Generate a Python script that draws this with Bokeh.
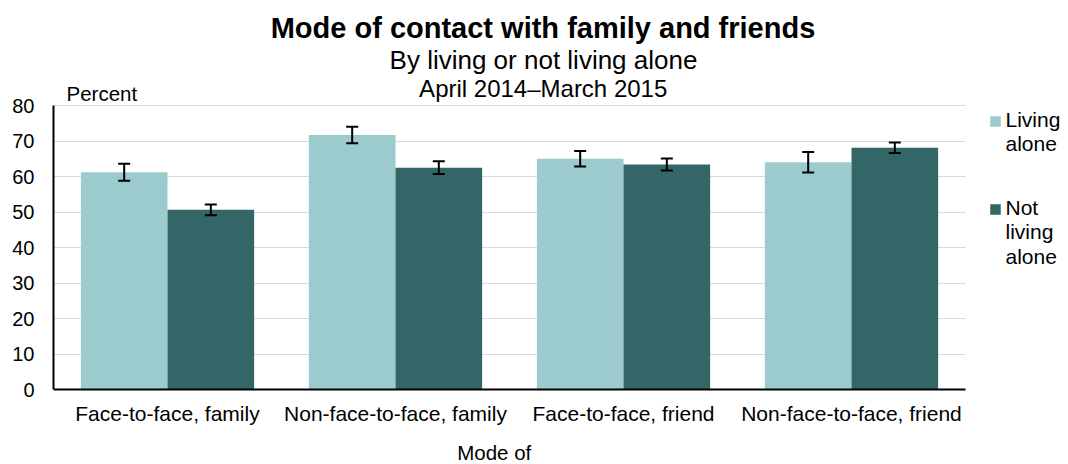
from bokeh.plotting import figure
from bokeh.models import Label, ColumnDataSource, Range1d, FixedTicker
from bokeh.embed import file_html
from bokeh.resources import INLINE

categories = ["Face-to-face, family", "Non-face-to-face, family",
              "Face-to-face, friend", "Non-face-to-face, friend"]
series_names = ["Living alone", "Not living alone"]
living_alone = [61.2, 71.7, 65.0, 64.0]
living_alone_err = [2.4, 2.3, 2.2, 2.9]
not_alone = [50.6, 62.5, 63.4, 68.1]
not_alone_err = [1.5, 1.8, 1.7, 1.5]
y_ticks = [0, 10, 20, 30, 40, 50, 60, 70, 80]

LIGHT = "#9BCBCC"
DARK = "#336666"
FONT = "Liberation Sans"

# layout constants (pixels in the 1068x464 canvas)
W, H = 1068, 464
LEFT = 53            # x of y-axis
Y0_PX, Y80_PX = 389, 105
GROUP_PX = 228
PX_PER_UNIT = (Y0_PX - Y80_PX) / 80.0

def dx(px):
    return (px - LEFT) / GROUP_PX

def dy(py):
    return (Y0_PX - py) / PX_PER_UNIT

n = len(categories)
centers = [i + 0.5 for i in range(n)]
off = 0.19

src = ColumnDataSource(dict(
    xl=[c - off for c in centers],
    xn=[c + off for c in centers],
    la=living_alone,
    la_lo=[v - e for v, e in zip(living_alone, living_alone_err)],
    la_hi=[v + e for v, e in zip(living_alone, living_alone_err)],
    na=not_alone,
    na_lo=[v - e for v, e in zip(not_alone, not_alone_err)],
    na_hi=[v + e for v, e in zip(not_alone, not_alone_err)],
))

p = figure(width=W, height=H,
           x_range=Range1d(0, (W - LEFT) / GROUP_PX),
           y_range=Range1d(dy(H), dy(0)),
           output_backend="svg", toolbar_location=None,
           background_fill_color="white", border_fill_color="white")
p.min_border = 0
p.min_border_left = LEFT
p.outline_line_color = None
p.xgrid.grid_line_color = None
p.ygrid.grid_line_color = "#D9D9D9"
p.ygrid.grid_line_width = 1
g = p.ygrid[0]
if "cross_bounds" in g.properties():
    g.cross_bounds = (0, n)

xa = p.xaxis[0]
ya = p.yaxis[0]
ya.ticker = FixedTicker(ticks=y_ticks)
ya.bounds = (0, 80)
xa.ticker = FixedTicker(ticks=centers)
xa.major_label_overrides = {c: cat for c, cat in zip(centers, categories)}
xa.bounds = (0, n)
xa.fixed_location = 0

for ax in (xa, ya):
    ax.axis_line_color = "black"
    ax.axis_line_width = 2
    ax.major_tick_line_color = None
    ax.minor_tick_line_color = None
    ax.major_tick_out = 0
    ax.major_tick_in = 0
    ax.minor_tick_out = 0
    ax.minor_tick_in = 0
    ax.major_label_text_font = FONT
    ax.major_label_text_color = "black"
ya.major_label_text_font_size = "20px"
xa.major_label_text_font_size = "21px"
ya.major_label_standoff = 19
xa.major_label_standoff = 12

for col, color, xcol in (("la", LIGHT, "xl"), ("na", DARK, "xn")):
    p.vbar(x=xcol, top=col, width=0.38, bottom=0, source=src,
           fill_color=color, line_color=None)
    p.segment(x0=xcol, y0=col + "_lo", x1=xcol, y1=col + "_hi", source=src,
              line_color="black", line_width=2)
    for end in ("_hi", "_lo"):
        p.scatter(x=xcol, y=col + end, marker="dash", size=12, source=src,
                  line_color="black", line_width=2)

def lab(text, px, py, size, align="left", style="normal"):
    # py is the wanted baseline; compensate renderer baseline offset
    py_adj = py - 0.37 * size
    p.add_layout(Label(text=text, x=dx(px), y=dy(py_adj),
                       text_font=FONT, text_font_size=f"{size}px", text_align=align,
                       text_baseline="alphabetic", text_font_style=style,
                       text_color="black"))

lab("Mode of contact with family and friends", 542.5, 38.5, 29, "center", "bold")
lab("By living or not living alone", 543, 69.3, 26, "center")
lab("April 2014\u2013March 2015", 542.7, 97, 24, "center")
lab("Percent", 66, 100.7, 20.5)
lab("Mode of", 493.7, 460, 20.5, "center")

# legend (swatches + wrapped labels)
legend_rows = [(121, LIGHT, ["Living", "alone"]),
               (209, DARK, ["Not", "living", "alone"])]
for sy, color, lines in legend_rows:
    p.scatter(x=[dx(995)], y=[dy(sy)], marker="square", size=10.5,
              fill_color=color, line_color=None)
    for i, t in enumerate(lines):
        lab(t, 1005, sy + 5.5 + i * 24.5, 21)

open("out.html", "w").write(file_html(p, INLINE))
